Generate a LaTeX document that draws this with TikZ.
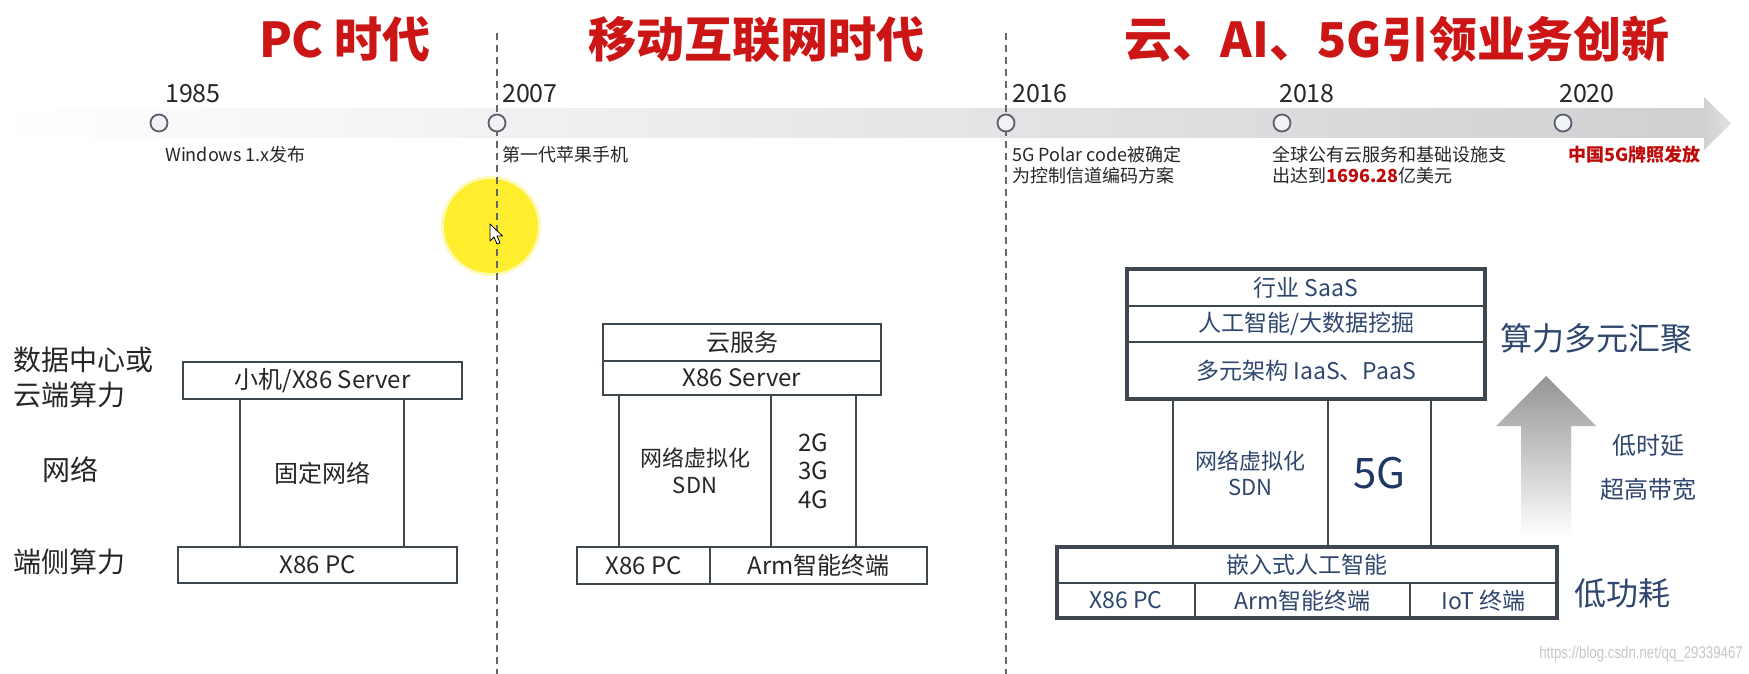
\documentclass[tikz,border=0pt]{standalone}
\usepackage{fontspec}
\setmainfont{Noto Sans CJK SC}
\newfontfamily\wmfont{Liberation Sans}
\usetikzlibrary{fit}
\definecolor{tred}{RGB}{204,22,22}
\definecolor{dred}{RGB}{190,10,10}
\definecolor{boxc}{RGB}{62,70,80}
\definecolor{navy}{RGB}{47,70,110}
\definecolor{navyd}{RGB}{31,56,100}
\definecolor{txt}{RGB}{38,38,38}
\definecolor{band1}{RGB}{236,236,238}
\definecolor{band2}{RGB}{208,208,210}
\definecolor{band3}{RGB}{225,225,227}
\definecolor{dotfill}{RGB}{240,242,246}
\definecolor{dotdraw}{RGB}{90,96,110}
\definecolor{hl}{RGB}{255,238,45}
\tikzset{
  box/.style={draw=boxc, line width=2.4pt, inner sep=0pt, outer sep=0pt, text=txt, align=center, font=\fontsize{24}{28}\selectfont},
  rbox/.style={box, text=navy},
  frame/.style={draw=boxc, line width=4.5pt, inner sep=0pt, outer sep=0pt},
  year/.style={anchor=base west, text=txt, font=\fontsize{25}{30}\selectfont, inner sep=0pt},
  desc/.style={anchor=base west, text=txt, font=\fontsize{18}{21.5}\selectfont, inner sep=0pt, align=left},
  ttl/.style={anchor=base, text=tred, font=\fontsize{48}{52}\selectfont\bfseries, inner sep=0pt},
  tdot/.style={circle, draw=dotdraw, fill=dotfill, line width=1.8pt, minimum size=17pt, inner sep=0pt},
  sepline/.style={draw=black!60, line width=1.3pt, dash pattern=on 7pt off 5pt},
  side/.style={anchor=base west, text=txt, font=\fontsize{28}{35}\selectfont, inner sep=0pt, align=left},
  rlab/.style={anchor=center, text=navy, inner sep=0pt, align=center},
}
\begin{document}
\begin{tikzpicture}[x=1pt,y=-1pt]
\useasboundingbox (0,0) rectangle (1749,674);
\fill[white] (0,0) rectangle (1749,674);
% timeline band
\shade[left color=white, right color=band1] (0,109) rectangle (700,138);
\shade[left color=band1, right color=band2] (700,109) rectangle (1705,138);
\shade[left color=band2, right color=band3] (1704,97) -- (1731,123.5) -- (1704,150) -- cycle;
% highlight
\fill[hl, opacity=0.35] (491,226) circle (50);
\fill[hl] (491,226) circle (47);
% separators
\coordinate (s1t) at (497,33); \coordinate (s1b) at (497,674);
\coordinate (s2t) at (1006,33); \coordinate (s2b) at (1006,674);
\draw[sepline] (s1t) -- (s1b);
\draw[sepline] (s2t) -- (s2b);
% cursor
\filldraw[fill=white, draw=black, line width=0.8pt, line join=round]
  (490,224) -- ++(0,17) -- ++(4,-4) -- ++(3,7) -- ++(3,-1.2) -- ++(-3,-6.8) -- ++(5.5,0) -- cycle;
% titles
\node[ttl] (t1) at (345,58) {PC 时代};
\node[ttl] (t2) at (756,58) {移动互联网时代};
\node[ttl] (t3) at (1397,58) {云、AI、5G引领业务创新};
% dots
\node[tdot] (d1) at (159,123) {};
\node[tdot] (d2) at (497,123) {};
\node[tdot] (d3) at (1006,123) {};
\node[tdot] (d4) at (1282,123) {};
\node[tdot] (d5) at (1563,123) {};
% years
\node[year] (y1) at (165,103) {1985};
\node[year] (y2) at (502,103) {2007};
\node[year] (y3) at (1012,103) {2016};
\node[year] (y4) at (1279,103) {2018};
\node[year] (y5) at (1559,103) {2020};
% descriptions
\node[desc] (e1) at (165,161) {Windows 1.x发布};
\node[desc] (e2) at (502,161) {第一代苹果手机};
\node[desc] (e3) at (1012,182.5) {5G Polar code被确定\\为控制信道编码方案};
\node[desc] (e4) at (1272,182.5) {全球公有云服务和基础设施支\\出达到{\color{dred}\bfseries 1696.28}亿美元};
\node[desc, text=dred, font=\fontsize{18}{21.5}\selectfont\bfseries] (e5) at (1568,161) {中国5G牌照发放};
% side labels
\node[side] (l1) at (13,405) {数据中心或\\云端算力};
\node[side] (l2) at (42,480) {网络};
\node[side] (l3) at (13,572) {端侧算力};
% left diagram
\node[box, minimum width=279pt, minimum height=37pt] (srvL) at (322.5,380.5) {小机/X86 Server};
\node[box, minimum width=164pt, minimum height=148pt] (netL) at (322,473) {固定网络};
\node[box, minimum width=279pt, minimum height=36pt] (pcL) at (317.5,565) {X86 PC};
% middle diagram
\node[box, minimum width=278pt, minimum height=37pt] (cloudM) at (742,342.5) {云服务};
\node[box, minimum width=278pt, minimum height=34pt] (srvM) at (742,378) {X86 Server};
\node[box, minimum width=152pt, minimum height=152pt, font=\fontsize{22}{27}\selectfont] (sdnM) at (695,471) {网络虚拟化\\SDN};
\node[box, minimum width=85pt, minimum height=152pt, font=\fontsize{24}{28.5}\selectfont] (gM) at (813.5,471) {2G\\3G\\4G};
\node[box, minimum width=133pt, minimum height=37pt] (pcM) at (643.5,565.5) {X86 PC};
\node[box, minimum width=217pt, minimum height=37pt] (armM) at (818.5,565.5) {Arm智能终端};
% right diagram
\node[rbox, minimum width=358pt, minimum height=37pt, font=\fontsize{23}{27}\selectfont] (saas) at (1306,287.5) {行业 SaaS};
\node[rbox, minimum width=358pt, minimum height=36pt, font=\fontsize{23}{27}\selectfont] (ai) at (1306,324) {人工智能/大数据挖掘};
\node[rbox, minimum width=358pt, minimum height=57pt, font=\fontsize{23}{27}\selectfont] (iaas) at (1306,370.5) {多元架构 IaaS、PaaS};
\node[rbox, minimum width=155pt, minimum height=148pt, font=\fontsize{22}{26}\selectfont] (sdnR) at (1250.5,473) {网络虚拟化\\SDN};
\node[rbox, minimum width=103pt, minimum height=148pt, text=navyd, font=\fontsize{42}{46}\selectfont] (g5) at (1379.5,473) {5G};
\node[rbox, minimum width=500pt, minimum height=36pt, font=\fontsize{23}{27}\selectfont] (emb) at (1307,565) {嵌入式人工智能};
\node[rbox, minimum width=138pt, minimum height=35pt, font=\fontsize{23}{27}\selectfont] (pcR) at (1126,600.5) {X86 PC};
\node[rbox, minimum width=215pt, minimum height=35pt, font=\fontsize{23}{27}\selectfont] (armR) at (1302.5,600.5) {Arm智能终端};
\node[rbox, minimum width=147pt, minimum height=35pt, font=\fontsize{23}{27}\selectfont] (iot) at (1483.5,600.5) {IoT 终端};
\node[frame, fit=(saas)(iaas)] (ftop) {};
\node[frame, fit=(emb)(pcR)(iot)] (fbot) {};
% up arrow
\shade[top color=black!42, bottom color=white]
  (1546,376) -- (1596,426) -- (1571,426) -- (1571,537) -- (1521,537) -- (1521,426) -- (1496,426) -- cycle;
% right labels
\node[rlab, font=\fontsize{32}{36}\selectfont] (r1) at (1596,338) {算力多元汇聚};
\node[rlab, font=\fontsize{24}{28}\selectfont] (r2) at (1648,445) {低时延};
\node[rlab, font=\fontsize{24}{28}\selectfont] (r3) at (1648,489) {超高带宽};
\node[rlab, font=\fontsize{32}{36}\selectfont] (r4) at (1622,593) {低功耗};
% watermark
\node[anchor=base east, inner sep=0pt, text=black!22, font=\wmfont\fontsize{17}{20}\selectfont] (wm) at (1743,658) {\scalebox{0.78}[1]{https://blog.csdn.net/qq\_29339467}};
\end{tikzpicture}
\end{document}
